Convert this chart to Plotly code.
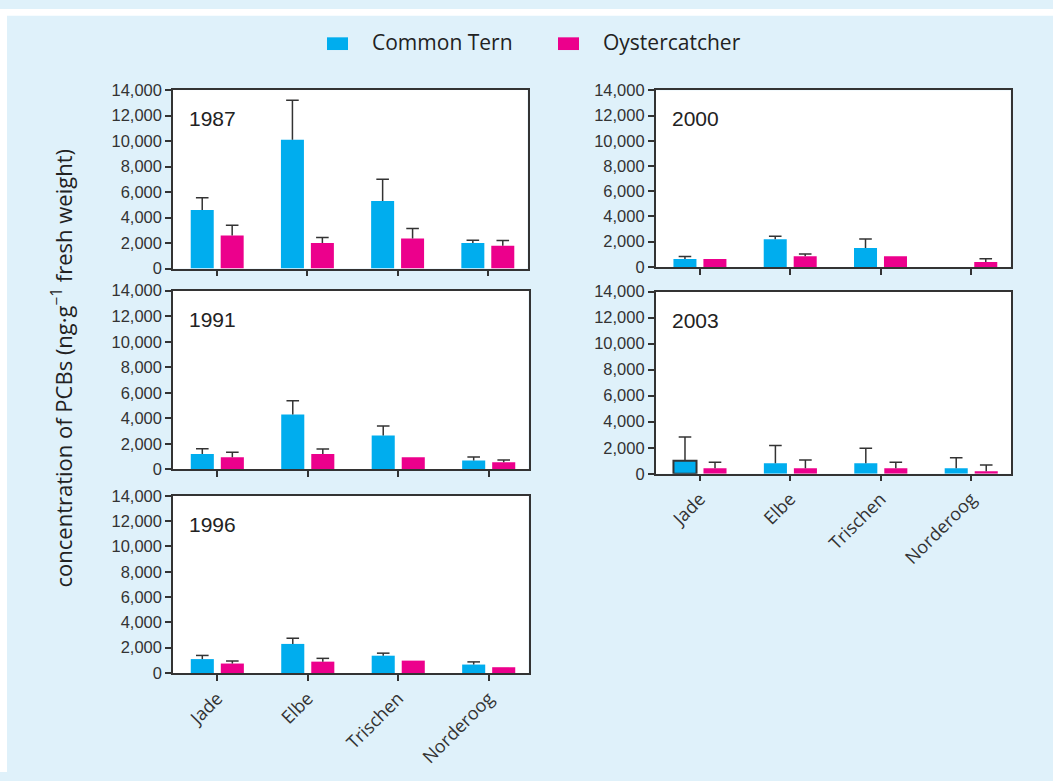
import plotly.graph_objects as go

# ---- data ---------------------------------------------------------------
sites = ["Jade", "Elbe", "Trischen", "Norderoog"]
years = ["1987", "1991", "1996", "2000", "2003"]

tern_1987 = [4600, 10100, 5300, 2000]
tern_err_1987 = [950, 3100, 1700, 230]
oyster_1987 = [2600, 2000, 2350, 1800]
oyster_err_1987 = [800, 440, 800, 400]

tern_1991 = [1200, 4300, 2650, 700]
tern_err_1991 = [430, 1080, 760, 270]
oyster_1991 = [950, 1200, 950, 560]
oyster_err_1991 = [400, 400, 0, 180]

tern_1996 = [1100, 2300, 1370, 670]
tern_err_1996 = [290, 450, 200, 210]
oyster_1996 = [750, 900, 980, 460]
oyster_err_1996 = [200, 260, 0, 0]

tern_2000 = [620, 2200, 1500, None]
tern_err_2000 = [210, 230, 720, 0]
oyster_2000 = [620, 850, 850, 390]
oyster_err_2000 = [0, 180, 0, 250]

tern_2003 = [1000, 800, 800, 430]
tern_err_2003 = [1830, 1380, 1150, 800]
oyster_2003 = [430, 430, 430, 200]
oyster_err_2003 = [450, 620, 450, 480]

y_ticks = [0, 2000, 4000, 6000, 8000, 10000, 12000, 14000]

series = {
    "1987": (tern_1987, tern_err_1987, oyster_1987, oyster_err_1987),
    "1991": (tern_1991, tern_err_1991, oyster_1991, oyster_err_1991),
    "1996": (tern_1996, tern_err_1996, oyster_1996, oyster_err_1996),
    "2000": (tern_2000, tern_err_2000, oyster_2000, oyster_err_2000),
    "2003": (tern_2003, tern_err_2003, oyster_2003, oyster_err_2003),
}

# ---- styling ------------------------------------------------------------
W, H = 1053, 781
BG = "#dff1fa"
TERN = "#00adee"
OYSTER = "#ec008c"
INK = "#333333"
NUM_FONT = "Liberation Sans, Arial, sans-serif"
TEXT_FONT = "Open Sans, Noto Sans, sans-serif"

BAR_W = 0.255
OFFSET = 0.166


def px(x):
    return x / W


def py(y):
    return 1 - y / H


# panel boxes in pixels: (left, right, top, bottom)
boxes = {
    "1987": (173, 527.5, 83, 265.7),
    "1991": (173, 528.5, 288.3, 471.3),
    "1996": (173, 528.5, 498.3, 679.7),
    "2000": (655.7, 1010.5, 83.3, 264),
    "2003": (655.7, 1011, 289.3, 475.7),
}
labelled = {"1996", "2003"}

fig = go.Figure()


def add_errors(xs, vals, errs, xa, ya):
    lx, ly, cx, cy = [], [], [], []
    for x, v, e in zip(xs, vals, errs):
        if v is None or not e:
            continue
        lx += [x, x, None]
        ly += [v, v + e, None]
        cx.append(x)
        cy.append(v + e)
    fig.add_trace(go.Scatter(
        x=lx, y=ly, mode="lines", xaxis=xa, yaxis=ya,
        line=dict(color=INK, width=1.5), showlegend=False, hoverinfo="skip"))
    fig.add_trace(go.Scatter(
        x=cx, y=cy, mode="markers", xaxis=xa, yaxis=ya,
        marker=dict(symbol="line-ew", size=9, line=dict(color=INK, width=1.5)),
        showlegend=False, hoverinfo="skip"))


layout_axes = {}
annotations = []
for k, year in enumerate(years):
    n = "" if k == 0 else str(k + 1)
    xa, ya = "x" + n, "y" + n
    tern, tern_err, oyster, oyster_err = series[year]
    idx = list(range(len(sites)))
    xt = [i - OFFSET for i in idx]
    xo = [i + OFFSET for i in idx]

    outline_w = [2 if (year == "2003" and i == 0) else 0 for i in idx]
    fig.add_trace(go.Bar(
        x=xt, y=tern, width=BAR_W, xaxis=xa, yaxis=ya, name="Common Tern",
        marker=dict(color=TERN, line=dict(color=INK, width=outline_w)),
        showlegend=False))
    fig.add_trace(go.Bar(
        x=xo, y=oyster, width=BAR_W, xaxis=xa, yaxis=ya, name="Oystercatcher",
        marker=dict(color=OYSTER, line=dict(width=0)), showlegend=False))
    add_errors(xt, tern, tern_err, xa, ya)
    add_errors(xo, oyster, oyster_err, xa, ya)

    l, r, t, b = boxes[year]
    common = dict(showline=True, mirror=True, linecolor=INK, linewidth=1.5,
                  showgrid=False, zeroline=False, ticks="outside", ticklen=6,
                  tickwidth=1.5, tickcolor=INK)
    layout_axes["xaxis" + n] = dict(
        domain=[px(l), px(r)], anchor=ya, range=[-0.49, 3.44],
        tickvals=idx, ticktext=sites, tickangle=-45,
        showticklabels=year in labelled,
        tickfont=dict(family=TEXT_FONT, size=18, color=INK), **common)
    layout_axes["yaxis" + n] = dict(
        domain=[py(b), py(t)], anchor=xa, range=[0, 14000],
        tickvals=y_ticks, tickformat=",",
        tickfont=dict(family=NUM_FONT, size=16.5, color=INK), **common)

    annotations.append(dict(
        text=year, xref=xa + " domain", yref=ya + " domain", x=0, y=1,
        xanchor="left", yanchor="top", xshift=14, yshift=-15, showarrow=False,
        font=dict(family=NUM_FONT, size=21, color="#222222")))

# axis title shared by all panels
annotations.append(dict(
    text="concentration of PCBs (ng·g<sup>−1</sup> fresh weight)",
    xref="paper", yref="paper", x=px(62), y=py(368), textangle=-90,
    xanchor="center", yanchor="middle", showarrow=False,
    font=dict(family=TEXT_FONT, size=22, color="#222222")))

# legend drawn across the top
legend_items = [("Common Tern", TERN, 327), ("Oystercatcher", OYSTER, 558)]
shapes = [
    dict(type="rect", xref="paper", yref="paper", x0=0, x1=px(7), y0=0, y1=1,
         fillcolor="white", line=dict(width=0), layer="below"),
    dict(type="rect", xref="paper", yref="paper", x0=0, x1=1, y0=py(7), y1=1,
         fillcolor="white", line=dict(width=0), layer="below"),
]
for label, color, x0 in legend_items:
    shapes.append(dict(type="rect", xref="paper", yref="paper",
                       x0=px(x0), x1=px(x0 + 21), y0=py(42), y1=py(29),
                       fillcolor=color, line=dict(width=0)))
    annotations.append(dict(
        text=label, xref="paper", yref="paper", x=px(x0 + 43), y=py(34),
        xanchor="left", yanchor="middle", showarrow=False,
        font=dict(family=TEXT_FONT, size=21, color="#222222")))

fig.update_layout(
    width=W, height=H, margin=dict(l=0, r=0, t=0, b=0),
    paper_bgcolor=BG, plot_bgcolor="white", barmode="overlay",
    showlegend=False, annotations=annotations, shapes=shapes,
    **layout_axes)

fig.write_html("out.html")
